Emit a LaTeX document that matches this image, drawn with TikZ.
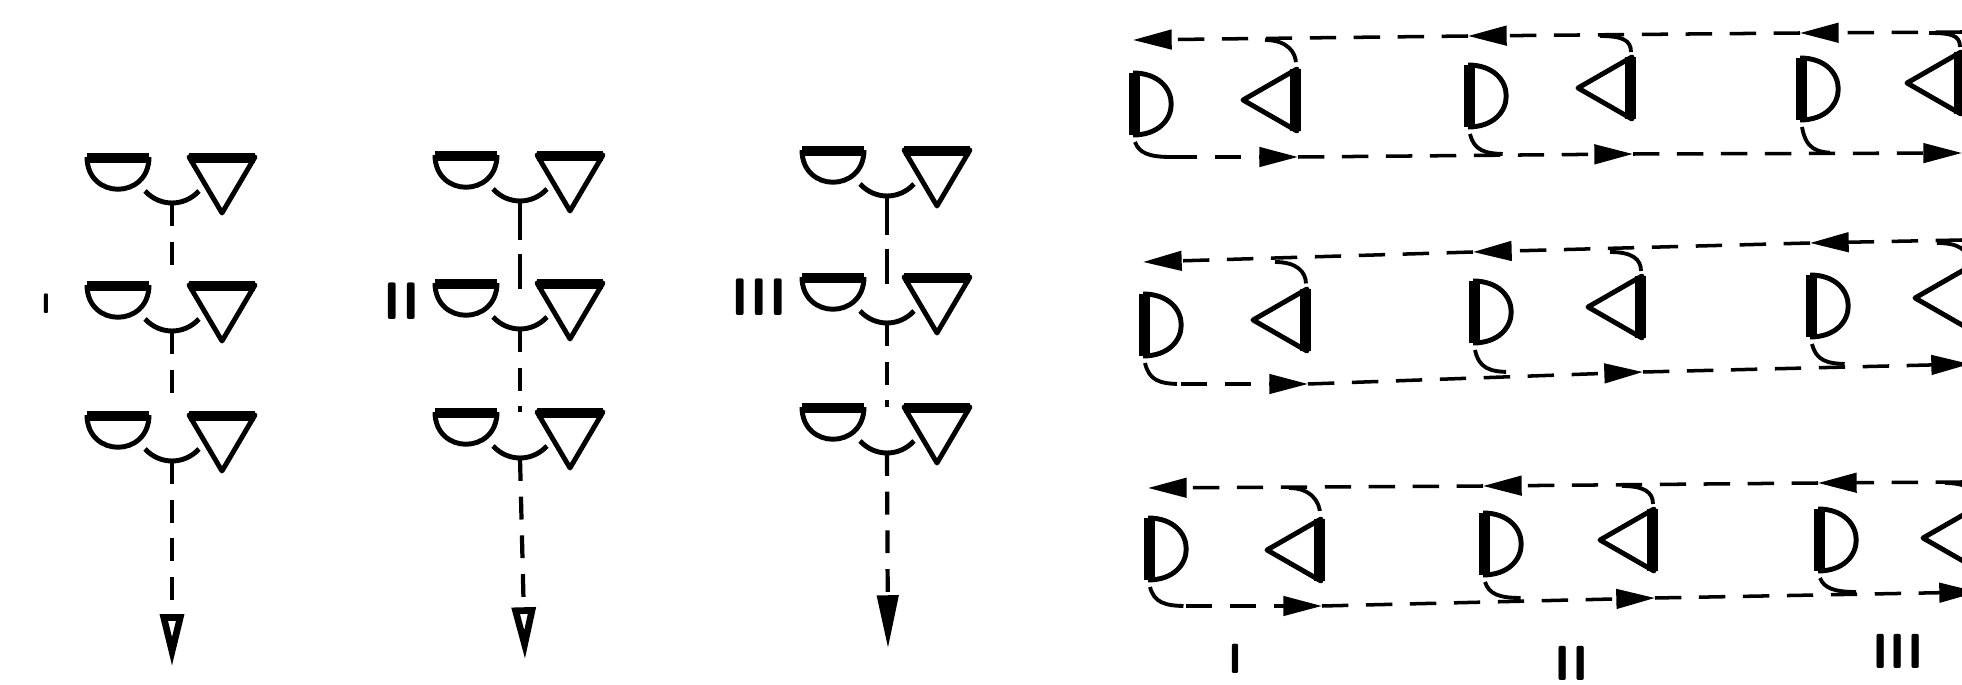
\documentclass[tikz,border=0pt]{standalone}
\usetikzlibrary{arrows.meta}

\tikzset{
  symline/.style={line width=1.4pt,line join=round},
  flatedge/.style={line width=2.9pt},
  dline/.style={line width=1pt,dash pattern=on 7.5pt off 5pt},
  bendline/.style={line width=1.1pt,dash pattern=on 12pt off 3pt},
  vline/.style={line width=1.2pt,dash pattern=on 6.5pt off 4.5pt},
  longfirst/.style={line width=1.2pt,dash pattern=on 11pt off 4pt on 10pt off 4pt},
  arrowl/.style={-{Triangle[length=11pt,width=5.5pt]}},
  arrowv/.style={-{Triangle[length=15pt,width=6.5pt,open,line width=1.9pt]}},
  arrowvf/.style={-{Triangle[length=15pt,width=6pt]}},
  numlab/.style={font=\sffamily\bfseries\fontsize{15}{15}\selectfont,inner sep=0pt}
}

% half disc (flat side up), joining arc and triangle (point down)
% #1 x of the connector, #2 top y, #3 name
\newcommand{\pairsym}[3]{%
  \draw[symline] (#1-85,#2) .. controls (#1-85,#2+43) and (#1-23,#2+43) .. (#1-23,#2);
  \draw[flatedge] (#1-85,#2+1) -- (#1-23,#2+1);
  \draw[symline] (#1+17,#2) -- (#1+50,#2+56) -- (#1+83,#2) -- cycle;
  \draw[flatedge] (#1+17,#2+1) -- (#1+83,#2+1);
  \draw[symline] (#1-27,#2+34) .. controls (#1-12,#2+50) and (#1+12,#2+50) .. (#1+27,#2+34);
  \coordinate (#3) at (#1,#2+46);
  \coordinate (#3t) at (#1,#2);
  \coordinate (#3m) at (#1,#2+18);
}

% one unit of a ring: half disc (flat side left) and triangle (point left)
% #1,#2 disc; #3,#4 triangle apex; #5 upper line y; #6 lower line y; #7 name
\newcommand{\unitsym}[7]{%
  \draw[symline] (#1,#2-31) .. controls (#1+51,#2-31) and (#1+51,#2+31) .. (#1,#2+31);
  \draw[flatedge] (#1+1.5,#2-31) -- (#1+1.5,#2+31);
  \draw[symline] (#3,#4) -- (#3+54,#4-31) -- (#3+54,#4+31) -- cycle;
  \draw[flatedge] (#3+52.5,#4-31) -- (#3+52.5,#4+31);
  \coordinate (#7-l) at (#1,#5);
  \coordinate (#7-r) at (#3+55,#6);
  \coordinate (#7-a) at (#3+22,#5);
  \coordinate (#7-c) at (#3+53,#4-36);
  \coordinate (#7-d) at (#1+2,#2+38);
  \coordinate (#7-b) at (#1+38,#6);
  \draw[bendline] (#7-a) .. controls (#3+44,#5) and (#3+53,#4-48) .. (#7-c);
  \draw[bendline] (#7-d) .. controls (#1+6,#6-4) and (#1+16,#6) .. (#7-b);
}

\begin{document}
\begin{tikzpicture}[x={(0.01cm,0cm)},y={(0cm,-0.01cm)}]
\useasboundingbox (0,0) rectangle (1962,685);
\clip (0,0) rectangle (1962,685);

% left: three columns
\foreach \x/\a/\b/\c [count=\i] in {172/157/285/415, 520/155/283/412, 887/150/277/407}{
  \pairsym{\x}{\a}{p\i-1}
  \pairsym{\x}{\b}{p\i-2}
  \pairsym{\x}{\c}{p\i-3}
}
\coordinate (o1) at (172,667);
\coordinate (o2) at (525,660);
\coordinate (o3) at (888,648);

% column I
\draw[vline,shorten >=3.5pt] (p1-1) -- (p1-2t);
\draw[vline,shorten >=3pt] (p1-2) -- (p1-3t);
\draw[vline,arrowv] (p1-3) -- (o1);
% column II
\draw[longfirst] (p2-1) -- (p2-2m);
\draw[vline] (p2-2) -- (p2-3t);
\draw[vline,arrowv] (p2-3) -- (o2);
% column III
\draw[longfirst] (p3-1) -- (p3-2m);
\draw[vline] (p3-2) -- (p3-3t);
\draw[vline,arrowvf] (p3-3) -- (o3);

\node[numlab,font=\sffamily\bfseries\fontsize{8}{8}\selectfont] (nI) at (46,304) {I};
\node[numlab] (nII) at (402,301) {II};
\node[numlab] (nIII) at (759,297) {III};

% right: three rings
\foreach \a/\b/\c/\d/\e/\f/\n in {
  1133/104/1243/100/40/157/u11, 1468/96/1578/88/36/154/u12, 1800/89/1907/83/33/153/u13,
  1143/325/1253/320/262/384/u21, 1473/312/1588/307/252/372/u22, 1810/306/1915/298/243/364/u23,
  1148/549/1267/550/488/606/u31, 1483/544/1600/540/486/598/u32, 1818/540/1923/538/483/592/u33}{
  \unitsym{\a}{\b}{\c}{\d}{\e}{\f}{\n}
}
\coordinate (re1) at (1962,32);
\coordinate (re2) at (1962,240);
\coordinate (re3) at (1962,482);
\foreach \r in {1,2,3}{
  \draw[dline,arrowl] (re\r) -- (u\r3-l);
  \draw[dline,arrowl] (u\r3-l) -- (u\r2-l);
  \draw[dline,arrowl] (u\r2-l) -- (u\r1-l);
  \draw[dline,arrowl] (u\r1-b) -- (u\r1-r);
  \draw[dline,arrowl] (u\r1-r) -- (u\r2-r);
  \draw[dline,arrowl] (u\r2-r) -- (u\r3-r);
}

\node[numlab,font=\sffamily\bfseries\fontsize{12}{12}\selectfont] (mI) at (1235,659) {I};
\node[numlab,font=\sffamily\bfseries\fontsize{14}{14}\selectfont] (mII) at (1572,663) {II};
\node[numlab,font=\sffamily\bfseries\fontsize{14}{14}\selectfont] (mIII) at (1898,651) {III};
\end{tikzpicture}
\end{document}
